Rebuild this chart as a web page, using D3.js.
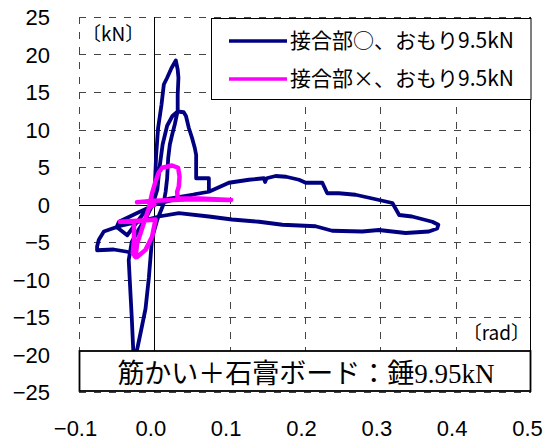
<!DOCTYPE html>
<html>
<head>
<meta charset="utf-8">
<script src="https://cdn.jsdelivr.net/npm/d3@7"></script>
<style>
  html, body { margin: 0; padding: 0; background: #fff; }
  svg { display: block; }
</style>
</head>
<body>
<svg id="chart" width="544" height="443"></svg>
<script>
// Axis ticks
const xTicks = [-0.1, 0.0, 0.1, 0.2, 0.3, 0.4, 0.5];
const yTicks = [-25, -20, -15, -10, -5, 0, 5, 10, 15, 20, 25];

// Legend / annotation text
const seriesNames = ["接合部○、おもり9.5kN", "接合部×、おもり9.5kN"];
const seriesColors = ["#000080", "#ff00ff"];
const unitY = "〔kN〕";
const unitX = "〔rad〕";
const caption = "筋かい＋石膏ボード：錘9.95kN";

// Hysteresis record, joint connected (rad, kN)
const jointOn = [
  [0, 0], [-0.003, 0.9], [0.0007, 2.6], [0.0024, 6.6], [0.005, 10.2], [0.0095, 13.3],
  [0.0126, 16.0], [0.017, 16.9], [0.0228, 18.2], [0.0285, 19.2],
  [0.031, 18.0], [0.032, 16.9], [0.031, 14.6], [0.031, 12.5],
  [0.0272, 10.7], [0.0236, 9.3], [0.0206, 8.0], [0.0184, 6.2], [0.017, 3.5], [0.015, 1.7],
  [0.012, 0], [0.004, -2], [-0.003, -4.5], [-0.0073, -9.8], [-0.0117, -13.9], [-0.018, -17],
  [-0.023, -19.4], [-0.026, -23],
  [-0.028, -21], [-0.028, -19.4], [-0.030, -15], [-0.0316, -12], [-0.034, -7.4],
  [-0.03, -5], [-0.02, -3.2], [-0.01, -1.6], [-0.002, 0], [0.004, 2], [0.007, 5], [0.011, 8],
  [0.017, 10.5], [0.024, 11.8], [0.031, 12.4], [0.039, 12.3],
  [0.042, 11.8], [0.0458, 10.2], [0.050, 8.9], [0.0538, 7.5], [0.0555, 6.6], [0.0555, 3.5],
  [0.0724, 3.5], [0.0724, 1.7],
  [0.0547, 1.4], [0.025, 0.6], [0.0016, 0.0], [-0.02, -1.0], [-0.047, -2.3], [-0.05, -3.0],
  [-0.036, -4.1], [-0.016, -1.4], [-0.003, 0], [0.02, 0.8], [0.05, 1.3], [0.0724, 1.7],
  [0.099, 2.9], [0.1255, 3.3], [0.1454, 3.5], [0.147, 3.0], [0.149, 3.5], [0.161, 3.8],
  [0.175, 3.7], [0.192, 3.3], [0.201, 2.9], [0.223, 2.9], [0.2295, 1.5], [0.245, 1.5],
  [0.267, 1.3], [0.285, 0.9], [0.316, 0.2], [0.325, -1.4], [0.342, -1.6], [0.369, -2.3],
  [0.377, -2.7], [0.3755, -3.2],
  [0.3645, -3.6], [0.3336, -3.8], [0.298, -3.4], [0.276, -3.6], [0.236, -3.5], [0.214, -2.9],
  [0.170, -2.7], [0.139, -2.3], [0.103, -2.0], [0.0724, -1.6], [0.0325, -1.15], [0.006, -1.6],
  [-0.0206, -2.3], [-0.047, -2.9], [-0.067, -3.6], [-0.0737, -4.7], [-0.076, -5.6],
  [-0.076, -6.1], [-0.054, -6.0], [-0.036, -6.3]
];

// Hysteresis record, joint not connected (rad, kN)
const jointOff = [
  [0, 0], [-0.0073, -0.5], [-0.014, -2.5], [-0.0228, -5.2], [-0.026, -6.9], [-0.023, -7.0],
  [-0.0117, -6.05], [-0.003, -4.3], [0.0016, -2.0], [-0.01, -2.1], [-0.0457, -2.3],
  [-0.030, -2.3], [-0.027, -2.5], [-0.027, -4.7], [-0.0286, -6.5], [-0.025, -7.0],
  [-0.0228, -5.2], [-0.014, -2.5], [-0.0073, -0.5], [-0.003, 1.5], [0.0016, 3.1],
  [0.006, 4.3], [0.0104, 4.9], [0.0236, 5.2], [0.0316, 4.9], [0.0335, 3.7], [0.0325, 2.4],
  [0.0303, 1.7], [0.031, 0.8], [0.06, 0.8], [0.102, 0.6],
  [0.05, 0.7], [0.0, 0.5], [-0.023, 0.3]
];

const svg = d3.select("#chart");
const plot = { left: 79, right: 531, top: 17, bottom: 392 };

const x = d3.scaleLinear().domain([-0.1, 0.5]).range([plot.left, plot.right]);
const y = d3.scaleLinear().domain([-25, 25]).range([plot.bottom, plot.top]);

const latin = "'Liberation Sans', Arial, sans-serif";
const jp = "'Noto Sans CJK JP', sans-serif";

// Dashed grid
const grid = svg.append("g").attr("stroke", "#444").attr("stroke-width", 1)
  .attr("stroke-dasharray", "7,8").attr("shape-rendering", "crispEdges");
grid.selectAll("line.h").data(yTicks.filter(d => d !== 0)).join("line")
  .attr("x1", plot.left).attr("x2", plot.right)
  .attr("y1", d => Math.round(y(d)) + 0.5).attr("y2", d => Math.round(y(d)) + 0.5);
grid.selectAll("line.v").data(xTicks.filter(d => d !== 0 && d !== 0.5)).join("line")
  .attr("y1", plot.top).attr("y2", plot.bottom)
  .attr("x1", d => Math.round(x(d)) + 0.5).attr("x2", d => Math.round(x(d)) + 0.5);

// Zero lines and right border
const axesG = svg.append("g").attr("stroke", "#000").attr("stroke-width", 1).attr("shape-rendering", "crispEdges");
axesG.append("line").attr("x1", plot.left).attr("x2", plot.right)
  .attr("y1", Math.round(y(0)) + 0.5).attr("y2", Math.round(y(0)) + 0.5);
axesG.append("line").attr("y1", plot.top).attr("y2", plot.bottom)
  .attr("x1", Math.round(x(0)) + 0.5).attr("x2", Math.round(x(0)) + 0.5);
axesG.append("line").attr("y1", plot.top).attr("y2", plot.bottom)
  .attr("x1", Math.round(x(0.5)) - 0.5).attr("x2", Math.round(x(0.5)) - 0.5);

// Series
svg.append("clipPath").attr("id", "clip").append("rect")
  .attr("x", plot.left).attr("y", plot.top)
  .attr("width", plot.right - plot.left).attr("height", plot.bottom - plot.top);

const line = d3.line().x(d => x(d[0])).y(d => y(d[1]));
const series = [jointOn, jointOff];
const widths = [3.8, 4.5];
svg.append("g").attr("clip-path", "url(#clip)")
  .selectAll("path").data(series).join("path")
  .attr("d", line)
  .attr("fill", "none")
  .attr("stroke", (d, i) => seriesColors[i])
  .attr("stroke-width", (d, i) => widths[i])
  .attr("stroke-linejoin", "round")
  .attr("stroke-linecap", "round");

// Axes labels
const xAxis = svg.append("g").attr("transform", `translate(0,${plot.bottom})`)
  .call(d3.axisBottom(x).tickValues(xTicks).tickFormat(d3.format(".1f")).tickSize(0));
xAxis.select(".domain").remove();
xAxis.selectAll("text").attr("font-family", latin).attr("font-size", 22)
  .attr("fill", "#000").attr("dy", null).attr("y", 44).attr("dx", -4);

const yAxis = svg.append("g").attr("transform", `translate(${plot.left},0)`)
  .call(d3.axisLeft(y).tickValues(yTicks).tickFormat(d3.format("d")).tickSize(0));
yAxis.select(".domain").remove();
yAxis.selectAll("text").attr("font-family", latin).attr("font-size", 22)
  .attr("fill", "#000").attr("x", -29).attr("dy", "0.36em");

// Unit labels
svg.append("text").attr("x", 82).attr("y", 41).attr("font-family", jp).attr("font-size", 19)
  .text(unitY);
svg.append("text").attr("x", 530).attr("y", 340).attr("text-anchor", "end")
  .attr("font-family", jp).attr("font-size", 19).text(unitX);

// Legend
const lg = svg.append("g");
lg.append("rect").attr("x", 211.5).attr("y", 18.5).attr("width", 319.5).attr("height", 81)
  .attr("fill", "#fff").attr("stroke", "#000").attr("stroke-width", 1);
const rows = lg.selectAll("g.row").data(seriesNames).join("g")
  .attr("transform", (d, i) => `translate(0,${41 + i * 38})`);
rows.append("line").attr("x1", 229).attr("x2", 287).attr("y1", 0).attr("y2", 0)
  .attr("stroke", (d, i) => seriesColors[i]).attr("stroke-width", 3.5);
rows.append("text").attr("x", 290).attr("y", 7).attr("font-family", jp).attr("font-size", 21)
  .text(d => d);

// Caption box
svg.append("rect").attr("x", 79.5).attr("y", 351).attr("width", 451).attr("height", 40)
  .attr("fill", "#fff").attr("stroke", "#000").attr("stroke-width", 1.8);
svg.append("text").attr("x", 306).attr("y", 383).attr("text-anchor", "middle")
  .attr("font-family", "'Liberation Serif', 'Noto Sans CJK JP', serif").attr("font-size", 27)
  .text(caption);
</script>
</body>
</html>
